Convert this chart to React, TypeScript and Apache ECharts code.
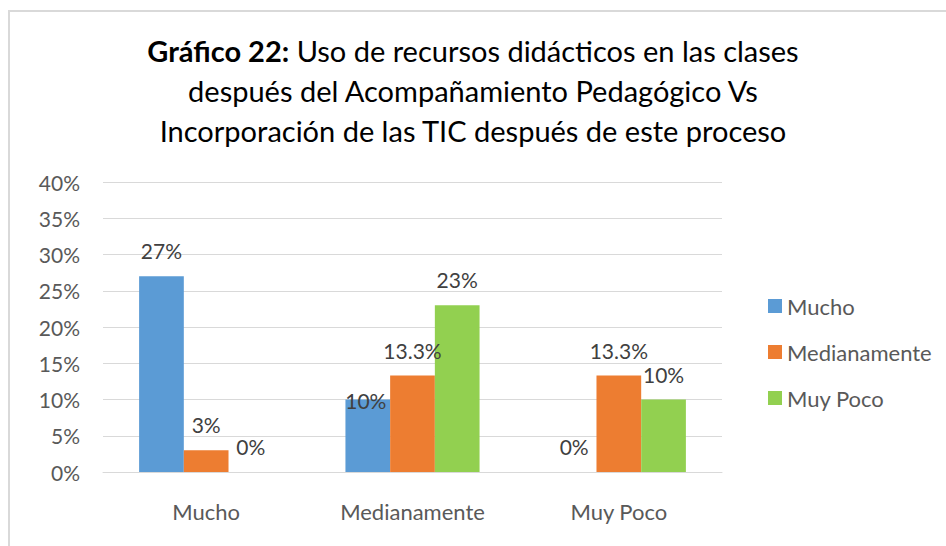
import React, { useEffect, useRef } from "react";
import * as echarts from "echarts";

const categories = ["Mucho", "Medianamente", "Muy Poco"];
const seriesNames = ["Mucho", "Medianamente", "Muy Poco"];
const muchoValues = [27, 10, 0];
const medianamenteValues = [3, 13.3, 13.3];
const muyPocoValues = [0, 23, 10];
const colors = ["#5B9BD5", "#ED7D31", "#92D050"];

const FONT = "Lato, 'Open Sans', sans-serif";

export default function App() {
  const ref = useRef<HTMLDivElement>(null);
  useEffect(() => {
    if (!ref.current) return;
    const chart = echarts.init(ref.current, null, { renderer: "svg" });
    const labelStyle = {
      show: true,
      position: "top" as const,
      distance: 15,
      fontSize: 21,
      color: "#404040",
      fontFamily: FONT,
      formatter: (p: any) => `${p.value}%`,
    };
    const mk = (vals: number[], idx: number) =>
      vals.map((v, i) => {
        if (idx === 0 && i === 1) {
          return { value: v, label: { offset: [-2, 26] } };
        }
        return v;
      });
    const all = [muchoValues, medianamenteValues, muyPocoValues];
    chart.setOption({
      animation: false,
      backgroundColor: "#ffffff",
      title: {
        left: "center",
        top: 25,
        text:
          "{b|Gráfico 22:}{n| Uso de recursos didácticos en las clases}\n{n|después del Acompañamiento Pedagógico Vs}\n{n|Incorporación de las TIC después de este proceso}",
        textStyle: {
          fontFamily: FONT,
          fontSize: 29,
          lineHeight: 40,
          color: "#000000",
          rich: {
            b: { fontFamily: FONT, fontSize: 29, fontWeight: "bold", color: "#000000", lineHeight: 40 },
            n: { fontFamily: FONT, fontSize: 29, fontWeight: "normal", color: "#000000", lineHeight: 40 },
          },
        },
      },
      legend: {
        orient: "vertical",
        left: 763,
        top: 290,
        itemWidth: 14,
        itemHeight: 14,
        itemGap: 24,
        icon: "rect",
        textStyle: { fontFamily: FONT, fontSize: 22, color: "#595959" },
        data: seriesNames,
      },
      grid: { left: 103, right: 224, top: 182, bottom: 74, containLabel: false },
      xAxis: {
        type: "category",
        data: categories,
        axisLine: { show: true, lineStyle: { color: "#d9d9d9", width: 1 } },
        axisTick: { show: false },
        axisLabel: { fontFamily: FONT, fontSize: 22, color: "#595959", margin: 28 },
      },
      yAxis: {
        type: "value",
        min: 0,
        max: 40,
        interval: 5,
        axisLine: { show: false },
        axisTick: { show: false },
        splitLine: { lineStyle: { color: "#d9d9d9", width: 1 } },
        axisLabel: {
          fontFamily: FONT,
          fontSize: 21,
          color: "#595959",
          margin: 23,
          formatter: (v: number) => `${v}%`,
        },
      },
      graphic: [
        {
          type: "rect",
          shape: { x: 9, y: 11, width: 1000, height: 600 },
          style: { fill: "none", stroke: "#d9d9d9", lineWidth: 2 },
          silent: true,
        },
      ],
      series: seriesNames.map((name, idx) => ({
        name,
        type: "bar",
        data: mk(all[idx], idx),
        itemStyle: { color: colors[idx] },
        barGap: "0%",
        barCategoryGap: "35%",
        label: labelStyle,
      })),
    });
    return () => chart.dispose();
  }, []);
  return (
    <div
      ref={ref}
      style={{ position: "absolute", left: 0, top: 0, width: 946, height: 546 }}
    />
  );
}
